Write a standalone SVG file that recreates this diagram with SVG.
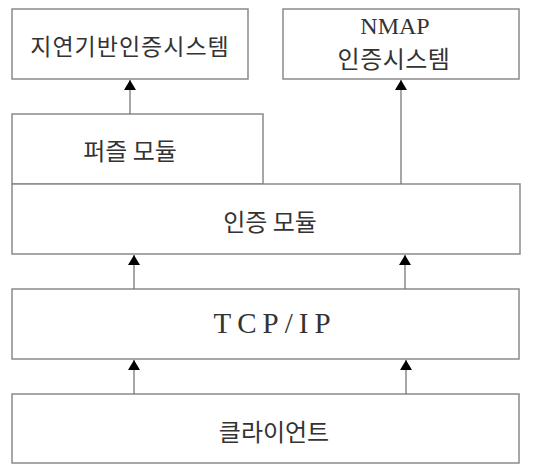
<svg xmlns="http://www.w3.org/2000/svg" width="546" height="476" viewBox="0 0 546 476">
<style>
.box{fill:#fff;stroke:#8a8a8a;stroke-width:1.5}
.lbl{font-family:"Noto Sans CJK KR","Noto Sans",sans-serif;font-size:24px;fill:#333;text-anchor:middle;dominant-baseline:central}
.ser{font-family:"Liberation Serif",serif;font-size:24px;fill:#333;text-anchor:middle;dominant-baseline:central}
.con{stroke:#777;stroke-width:1.3;fill:none;marker-end:url(#ah)}
</style>
<defs>
<marker id="ah" viewBox="0 0 10 12" refX="10" refY="6" markerWidth="10" markerHeight="12" markerUnits="userSpaceOnUse" orient="auto">
<path d="M0,0 L10,6 L0,12 Z" fill="#000"/>
</marker>
</defs>
<rect width="546" height="476" fill="#fff"/>
<g id="n-jiyeon"><rect class="box" x="12" y="9" width="236" height="70"/><text class="lbl" x="130" y="45" style="font-size:23px;letter-spacing:1px">지연기반인증시스템</text></g>
<g id="n-nmap"><rect class="box" x="283" y="9" width="236" height="70"/><text class="ser" x="395" y="26">NMAP</text><text class="lbl" x="394" y="57" style="letter-spacing:0.5px">인증시스템</text></g>
<g id="n-puzzle"><rect class="box" x="12" y="114" width="251" height="70"/><text class="lbl" x="130" y="149">퍼즐 모듈</text></g>
<g id="n-auth"><rect class="box" x="12" y="184" width="508" height="70"/><text class="lbl" x="270" y="220">인증 모듈</text></g>
<g id="n-tcp"><rect class="box" x="12" y="289" width="507" height="70"/><text class="ser" x="275" y="323" style="font-size:29px;letter-spacing:6px">TCP/IP</text></g>
<g id="n-client"><rect class="box" x="12" y="394" width="507" height="69"/><text class="lbl" x="274" y="430">클라이언트</text></g>
<g id="connectors">
<line class="con" x1="130" y1="114" x2="130" y2="80"/>
<line class="con" x1="401" y1="184" x2="401" y2="80"/>
<line class="con" x1="134" y1="289" x2="134" y2="255"/>
<line class="con" x1="405" y1="289" x2="405" y2="255"/>
<line class="con" x1="134" y1="394" x2="134" y2="360"/>
<line class="con" x1="406" y1="394" x2="406" y2="360"/>
</g>
</svg>
